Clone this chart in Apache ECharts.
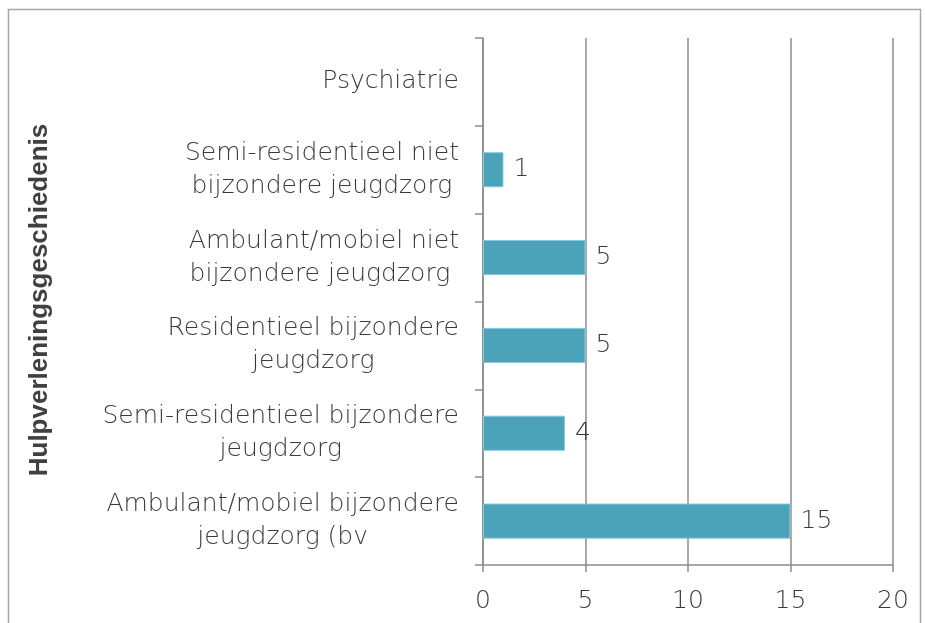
<!DOCTYPE html>
<html>
<head>
<meta charset="utf-8">
<script src="https://cdn.jsdelivr.net/npm/echarts@6/dist/echarts.min.js"></script>
<style>
html, body { margin: 0; padding: 0; background: #fff; }
#main { width: 925px; height: 623px; }
</style>
</head>
<body>
<div id="main"></div>
<script>
// categorieen van onder naar boven
var categories = [
    'Ambulant/mobiel bijzondere\njeugdzorg (bv',
    'Semi-residentieel bijzondere\njeugdzorg',
    'Residentieel bijzondere\njeugdzorg',
    'Ambulant/mobiel niet\nbijzondere jeugdzorg ',
    'Semi-residentieel niet\nbijzondere jeugdzorg',
    'Psychiatrie'
];
var values = [15, 4, 5, 5, 1, null];
var xTicks = [0, 5, 10, 15, 20];
var axisTitle = 'Hulpverleningsgeschiedenis';

var myChart = echarts.init(document.getElementById('main'));
var txt = '#3a3a3a';
var lijn = '#8c8c8c';
var font = 'DejaVu Sans';

var option = {
    animation: false,
    textStyle: { fontFamily: font },
    grid: { left: 483, right: 32, top: 38, bottom: 58 },
    graphic: [
        {
            type: 'rect',
            shape: { x: 8.5, y: 9.5, width: 912, height: 640 },
            style: { fill: 'none', stroke: '#a6a6a6', lineWidth: 1.5 }
        },
        {
            type: 'text',
            x: 40, y: 300,
            rotation: Math.PI / 2,
            style: {
                text: axisTitle,
                font: 'bold 26px "Liberation Sans"',
                fill: '#404040',
                textAlign: 'center',
                textVerticalAlign: 'middle'
            }
        }
    ],
    xAxis: {
        type: 'value',
        min: xTicks[0],
        max: xTicks[xTicks.length - 1],
        interval: 5,
        axisLine: { show: true, lineStyle: { color: lijn, width: 1.5 } },
        axisTick: { show: true, length: 7, lineStyle: { color: lijn, width: 1.5 } },
        splitLine: { show: true, lineStyle: { color: lijn, width: 1.5 } },
        axisLabel: { color: txt, fontSize: 25, margin: 24, fontFamily: font, fontWeight: 200 }
    },
    yAxis: {
        type: 'category',
        data: categories,
        axisLine: { show: true, lineStyle: { color: lijn, width: 1.5 } },
        axisTick: { show: true, length: 8, lineStyle: { color: lijn, width: 1.5 } },
        axisLabel: {
            margin: 24,
            formatter: function (v) {
                return v.split('\n').map(function (r) { return '{c|' + r + '}'; }).join('\n');
            },
            rich: {
                c: { align: 'center', color: txt, fontSize: 25, lineHeight: 33, fontFamily: font, fontWeight: 200 }
            }
        }
    },
    series: [
        {
            type: 'bar',
            data: values,
            barCategoryGap: '60%',
            itemStyle: { color: '#4aa3b8', borderColor: '#8ccbd9', borderWidth: 1 },
            label: {
                show: true,
                position: 'right',
                distance: 10,
                color: txt,
                fontSize: 25,
                fontFamily: font,
                fontWeight: 200
            }
        }
    ]
};
myChart.setOption(option);
</script>
</body>
</html>
